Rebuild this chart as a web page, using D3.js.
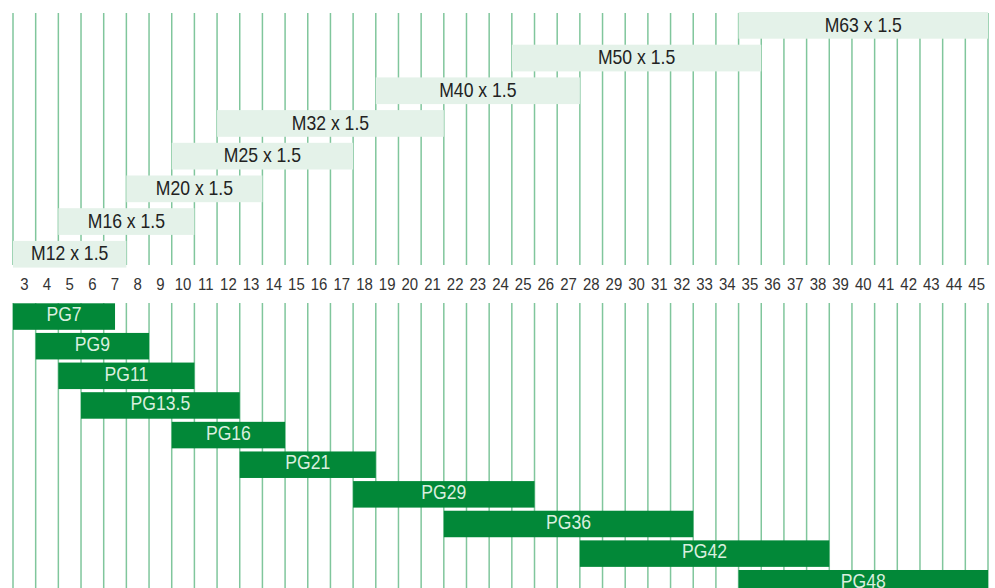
<!DOCTYPE html>
<html>
<head>
<meta charset="utf-8">
<script src="https://cdn.jsdelivr.net/npm/d3@7"></script>
<style>
  body { margin: 0; background: #fff; }
  text { font-family: "Liberation Sans Narrow", "Arial Narrow", "Liberation Sans", sans-serif; }
  .grid { stroke: #80c69c; stroke-width: 1.5; }
  .metric { fill: #e4f2e9; }
  .metric-label { fill: #222; font-size: 20px; }
  .pg { fill: #028838; }
  .pg-label { fill: #d9efdf; font-size: 20px; }
  .tick-label { fill: #333; font-size: 17px; }
</style>
</head>
<body>
<div id="graph"></div>
<script>
const width = 995;
const height = 588;
const squeeze = 0.88; // the original uses a condensed face

// clamping ranges in mm
const metricNames = ["M63 x 1.5", "M50 x 1.5", "M40 x 1.5", "M32 x 1.5", "M25 x 1.5", "M20 x 1.5", "M16 x 1.5", "M12 x 1.5"];
const metricMin = [35, 25, 19, 12, 10, 8, 5, 3];
const metricMax = [45, 35, 27, 21, 17, 13, 10, 7];

const pgNames = ["PG7", "PG9", "PG11", "PG13.5", "PG16", "PG21", "PG29", "PG36", "PG42", "PG48"];
const pgMin = [3, 4, 5, 6, 10, 13, 18, 22, 28, 35];
const pgMax = [6.5, 8, 10, 12, 14, 18, 25, 32, 38, 45];

const ticks = d3.range(3, 46);

const svg = d3.select("#graph")
  .append("svg")
  .attr("width", width)
  .attr("height", height);

// one cell per mm, value centred in its cell
const x = d3.scaleLinear().domain([2.5, 45.5]).range([13, 988]);

const yTop = d3.scaleBand()
  .domain(metricNames)
  .range([12, 267.6])
  .paddingInner(0.1835);

const yBottom = d3.scaleBand()
  .domain(pgNames)
  .range([303.3, 596.5])
  .paddingInner(0.1056);

const narrow = (cx, cy) => `translate(${cx},${cy}) scale(${squeeze},1)`;

// grid lines, broken where the tick labels sit
const gridValues = d3.range(2.5, 46, 1);
svg.selectAll(".grid-top")
  .data(gridValues)
  .join("line")
  .attr("class", "grid")
  .attr("x1", d => x(d))
  .attr("x2", d => x(d))
  .attr("y1", 13)
  .attr("y2", 265);

svg.selectAll(".grid-bottom")
  .data(gridValues)
  .join("line")
  .attr("class", "grid")
  .attr("x1", d => x(d))
  .attr("x2", d => x(d))
  .attr("y1", 303)
  .attr("y2", height);

svg.selectAll(".tick-label")
  .data(ticks)
  .join("text")
  .attr("class", "tick-label")
  .attr("transform", d => narrow(x(d), 290))
  .attr("text-anchor", "middle")
  .text(d => d);

// metric threads
const metric = metricNames.map((name, i) => ({ name, min: metricMin[i], max: metricMax[i] }));
svg.selectAll(".metric")
  .data(metric)
  .join("rect")
  .attr("class", "metric")
  .attr("x", d => x(d.min - 0.5))
  .attr("y", d => yTop(d.name))
  .attr("width", d => x(d.max + 0.5) - x(d.min - 0.5))
  .attr("height", yTop.bandwidth());

svg.selectAll(".metric-label")
  .data(metric)
  .join("text")
  .attr("class", "metric-label")
  .attr("transform", d => narrow((x(d.min - 0.5) + x(d.max + 0.5)) / 2, yTop(d.name) + 19.5))
  .attr("text-anchor", "middle")
  .text(d => d.name);

// PG threads
const pg = pgNames.map((name, i) => ({ name, min: pgMin[i], max: pgMax[i] }));
svg.selectAll(".pg")
  .data(pg)
  .join("rect")
  .attr("class", "pg")
  .attr("x", d => x(d.min - 0.5))
  .attr("y", d => yBottom(d.name))
  .attr("width", d => x(d.max + 0.5) - x(d.min - 0.5))
  .attr("height", yBottom.bandwidth());

svg.selectAll(".pg-label")
  .data(pg)
  .join("text")
  .attr("class", "pg-label")
  .attr("transform", d => narrow((x(d.min - 0.5) + x(d.max + 0.5)) / 2, yBottom(d.name) + 18))
  .attr("text-anchor", "middle")
  .text(d => d.name);
</script>
</body>
</html>
